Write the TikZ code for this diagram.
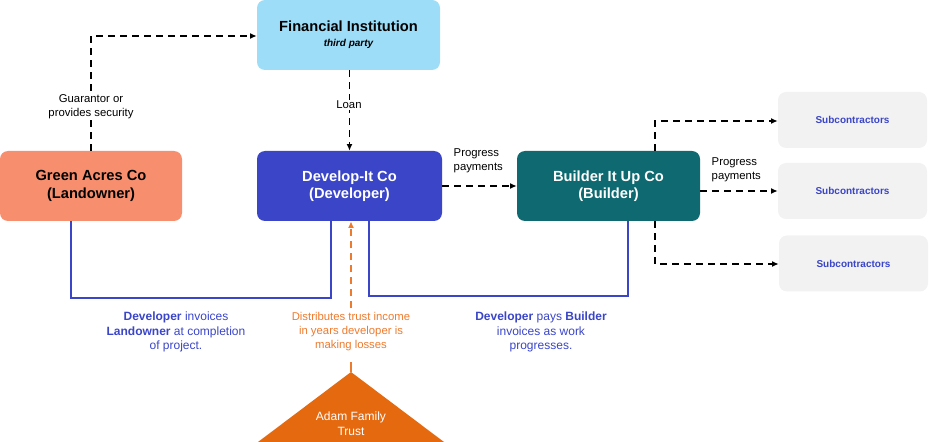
\documentclass[tikz,border=0pt]{standalone}
\usepackage{fontspec}
\setmainfont{Liberation Sans}
\usetikzlibrary{arrows.meta}
\definecolor{fin}{HTML}{9DDDF7}
\definecolor{land}{HTML}{F78F6E}
\definecolor{dev}{HTML}{3A45C8}
\definecolor{bld}{HTML}{0E6A70}
\definecolor{sub}{HTML}{F2F2F2}
\definecolor{trust}{HTML}{E5690F}
\definecolor{otext}{HTML}{EE7A2E}
\begin{document}
\begin{tikzpicture}[x=0.75pt,y=-0.75pt,
  box/.style={rounded corners=6pt,inner sep=0pt,font=\fontsize{11}{13}\selectfont\bfseries,align=center},
  subbox/.style={box,fill=sub,text=dev,minimum width=111.75pt,minimum height=42pt,font=\fontsize{7.5}{9}\selectfont\bfseries},
  dsh/.style={dash pattern=on 5pt off 4pt,line width=1.3pt,-{Latex[length=5pt,width=4.5pt]}},
  lbl/.style={font=\fontsize{8.5}{10.5}\selectfont,align=center,fill=white,inner sep=1pt},
  blue/.style={draw=dev,line width=1.5pt}]
\useasboundingbox (0,0) rectangle (933,442);
\node[box,fill=fin,minimum width=137.25pt,minimum height=52.5pt] (fin) at (348.5,35) {Financial Institution\\[-2pt]{\fontsize{7.5}{9}\selectfont\itshape third party}};
\node[box,fill=land,minimum width=136.5pt,minimum height=52.5pt] (land) at (91,186) {Green Acres Co\\(Landowner)};
\node[box,fill=dev,text=white,minimum width=138.75pt,minimum height=52.5pt] (dev) at (349.5,186) {Develop-It Co\\(Developer)};
\node[box,fill=bld,text=white,minimum width=137.25pt,minimum height=52.5pt] (bld) at (608.5,186) {Builder It Up Co\\(Builder)};
\node[subbox] (s1) at (852.5,120) {Subcontractors};
\node[subbox] (s2) at (852.5,191) {Subcontractors};
\node[subbox] (s3) at (853.5,263.5) {Subcontractors};
\fill[trust] (351,372) -- (444,442) -- (258,442) -- cycle;
\node[font=\fontsize{9}{11}\selectfont,text=white,align=center] (trust) at (351,424) {Adam Family\\Trust};
\coordinate (apex) at (351,372);
% dashed connectors
\coordinate (g1) at (91,36);
\draw[dsh] (land.north) -- (g1) -- (fin.west |- g1);
\node[lbl] (glbl) at (91,107) {Guarantor or\\provides security};
\draw[dsh] (fin.south -| dev.north) -- (dev.north);
\node[lbl] (loan) at (349,105) {Loan};
\draw[dsh] (dev.east) -- (bld.west);
\node[font=\fontsize{8.5}{10.5}\selectfont,align=left,anchor=west] (pp1) at (449,161) {Progress\\payments};
\coordinate (b1) at (655,121);
\coordinate (b3) at (655,264);
\draw[dsh] (bld.north -| b1) -- (b1) -- (s1.west |- b1);
\draw[dsh] (bld.east |- s2) -- (s2.west);
\draw[dsh] (bld.south -| b3) -- (b3) -- (s3.west |- b3);
\node[font=\fontsize{8.5}{10.5}\selectfont,align=left,anchor=west] (pp2) at (707,170) {Progress\\payments};
% blue solid
\coordinate (l1) at (71,298); \coordinate (l2) at (331,298);
\draw[blue] (land.south -| l1) -- (l1) -- (l2) -- (dev.south -| l2);
\coordinate (r1) at (369,296); \coordinate (r2) at (628,296);
\draw[blue] (dev.south -| r1) -- (r1) -- (r2) -- (bld.south -| r2);
\node[font=\fontsize{9}{11}\selectfont,text=dev,align=center] (t1) at (176,332) {\textbf{Developer} invoices\\\textbf{Landowner} at completion\\of project.};
\node[font=\fontsize{9}{11}\selectfont,text=dev,align=center] (t2) at (541,332) {\textbf{Developer} pays \textbf{Builder}\\invoices as work\\progresses.};
% orange
\node[font=\fontsize{8.5}{10.5}\selectfont,text=otext,align=center] (dist) at (351,332) {Distributes trust income\\in years developer is\\making losses};
\draw[otext,line width=1.3pt,dash pattern=on 5pt off 4pt,-{Latex[length=5pt,width=4.5pt]}] (dist.north) -- (dist.north |- dev.south);
\draw[otext,line width=1.3pt] (apex) -- ++(0,-10);
\end{tikzpicture}
\end{document}
